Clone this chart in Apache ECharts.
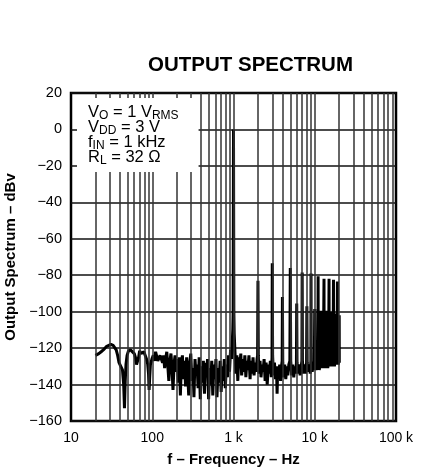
<!DOCTYPE html>
<html>
<head>
<meta charset="utf-8">
<script src="https://cdn.jsdelivr.net/npm/echarts@6/dist/echarts.min.js"></script>
<style>
  html, body { margin: 0; padding: 0; background: #fff; }
  #chart { width: 424px; height: 467px; }
</style>
</head>
<body>
<div id="chart"></div>
<script>
// axis ticks
const xTickValues = [10, 100, 1000, 10000, 100000];
const xTickLabels = ['10', '100', '1 k', '10 k', '100 k'];
const yTicks = [-160, -140, -120, -100, -80, -60, -40, -20, 0, 20];
// log grid lines between the decades
const gridFreqs = [
  20, 30, 40, 50, 60, 70, 80, 90, 100,
  200, 300, 400, 500, 600, 700, 800, 900, 1000,
  2000, 3000, 4000, 5000, 6000, 7000, 8000, 9000, 10000,
  20000, 30000, 40000, 50000, 60000, 70000, 80000, 90000
];

// noise floor below the fundamental  [Hz, dBV]
const floorBelow1k = [
  [20, -124], [21, -125], [22, -123], [23.5, -122], [25, -121], [26, -120],
  [27.5, -119], [29, -118.5], [31, -118], [33, -118.5], [34.5, -119], [36, -121],
  [37.5, -124], [39, -128], [41, -130], [43, -132], [44.5, -140], [45.5, -153],
  [46.5, -138], [47.5, -129], [49, -124], [51, -121.5], [54, -121], [57, -122],
  [60, -123], [62, -125], [64, -129], [66, -130], [68, -125], [70, -121.5],
  [73, -123], [76, -124], [79, -122], [82, -124], [85, -126], [88, -129],
  [90, -134], [91.5, -143], [93, -136], [95, -129], [99, -126], [103, -124],
  [107, -127], [110, -122], [113, -121.5], [117, -127], [121, -128], [125, -124],
  [130, -123], [134, -128], [138, -124], [142, -131], [146, -126], [151, -122],
  [155, -129], [160, -138], [165, -127], [170, -123], [175, -131], [180, -143],
  [186, -128], [191, -124], [197, -133], [203, -126], [209, -139], [215, -125],
  [222, -146], [228, -129], [235, -124], [242, -137], [250, -127], [257, -141],
  [265, -125], [273, -134], [281, -146], [290, -128], [298, -123], [307, -138],
  [317, -131], [326, -147], [336, -126], [346, -135], [356, -129], [367, -142],
  [378, -125], [390, -148], [401, -130], [413, -139], [426, -127], [439, -145],
  [452, -128], [465, -136], [479, -126], [494, -148], [509, -131], [524, -140],
  [540, -127], [556, -146], [573, -129], [590, -137], [608, -126], [626, -147],
  [645, -131], [664, -139], [684, -127], [705, -144], [726, -130], [748, -138],
  [770, -126], [793, -142], [817, -129], [842, -136], [867, -124], [893, -133],
  [920, -121], [948, -126], [965, -117], [980, -110], [990, -100]
];

// noise floor above the fundamental  [Hz, dBV]
const floorAbove1k = [
  [1010, -100], [1020, -112], [1040, -121], [1070, -134], [1100, -124], [1130, -138],
  [1160, -125], [1190, -131], [1230, -123], [1260, -135], [1300, -126], [1340, -133],
  [1380, -124], [1420, -136], [1460, -127], [1500, -132], [1550, -124], [1600, -137],
  [1640, -127], [1690, -134], [1740, -125], [1790, -135], [1850, -128], [1900, -133],
  [1950, -126], [1980, -124], [2020, -124], [2060, -134], [2120, -127], [2180, -136],
  [2250, -129], [2310, -133], [2380, -126], [2450, -138], [2520, -128], [2600, -140],
  [2680, -129], [2760, -134], [2840, -127], [2920, -136], [2980, -125], [3030, -124],
  [3100, -135], [3190, -128], [3290, -137], [3380, -130], [3440, -145], [3500, -131],
  [3600, -136], [3700, -129], [3800, -138], [3900, -130], [3970, -127], [4040, -128],
  [4150, -136], [4270, -129], [4400, -137], [4530, -130], [4660, -135], [4800, -129],
  [4940, -127], [5060, -127], [5200, -135], [5360, -129], [5520, -136], [5680, -130],
  [5850, -134], [5950, -128], [6050, -128], [6240, -134], [6420, -129], [6610, -135],
  [6810, -130], [6950, -127], [7050, -127], [7260, -134], [7480, -129], [7700, -134],
  [7930, -128], [8070, -128], [8300, -133], [8550, -129], [8800, -134], [8960, -127],
  [9040, -127], [9300, -133], [9580, -128], [9860, -132], [10100, -127], [10400, -132],
  [10700, -128], [10950, -126], [11050, -126], [11350, -132], [11700, -128], [11950, -126],
  [12050, -126], [12400, -131], [12750, -127], [12950, -126], [13050, -126], [13450, -131],
  [13800, -127], [13950, -126], [14050, -126], [14450, -131], [14800, -127], [14950, -126],
  [15050, -126], [15450, -130], [15800, -126], [15950, -126], [16050, -126], [16450, -130],
  [16800, -126], [16950, -125], [17050, -125], [17450, -130], [17800, -126], [17950, -125],
  [18050, -125], [18450, -129], [18800, -126], [18950, -125], [19050, -125], [19450, -129],
  [19800, -126], [19950, -125], [20050, -128]
];

// fundamental and harmonics
const harmonicFreq = [1000, 2000, 3000, 4000, 5000, 6000, 7000, 8000, 9000, 10000,
  11000, 12000, 13000, 14000, 15000, 16000, 17000, 18000, 19000, 20000];
const harmonicDbv = [0, -83, -73.5, -92, -76, -95.5, -78.5, -97, -79, -98.5,
  -80.5, -99.5, -82, -99.5, -82, -100, -82.5, -101, -83.5, -102];

const trace = floorBelow1k
  .concat(floorAbove1k)
  .concat(harmonicFreq.map((f, i) => [f, harmonicDbv[i]]))
  .sort((a, b) => a[0] - b[0]);

const FONT = 'Liberation Sans';

const chart = echarts.init(document.getElementById('chart'));

chart.setOption({
  animation: false,
  backgroundColor: '#fff',
  title: {
    text: 'OUTPUT SPECTRUM',
    left: 143,
    top: 50,
    textStyle: { fontFamily: FONT, fontSize: 20.5, fontWeight: 'bold', color: '#000' },
  },
  grid: {
    left: 71, right: 28, top: 93, bottom: 46,
    outerBoundsMode: 'none',
    show: true, borderColor: '#000', borderWidth: 2.5,
  },
  xAxis: {
    type: 'log',
    logBase: 10,
    min: 10,
    max: 100000,
    name: 'f \u2013 Frequency \u2013 Hz',
    nameLocation: 'middle',
    nameGap: 31.5,
    nameTextStyle: { fontFamily: FONT, fontSize: 15, fontWeight: 'bold', color: '#000' },
    axisLine: { show: false },
    axisTick: { show: false },
    splitLine: { show: false },
    axisLabel: {
      fontFamily: FONT, fontSize: 14, color: '#000', margin: 10,
      formatter: (v) => {
        const i = xTickValues.indexOf(Math.round(v));
        return i >= 0 ? xTickLabels[i] : '';
      },
    },
  },
  yAxis: {
    type: 'value',
    min: yTicks[0],
    max: yTicks[yTicks.length - 1],
    interval: 20,
    name: 'Output Spectrum \u2013 dBv',
    nameLocation: 'middle',
    nameGap: 50,
    nameTextStyle: { fontFamily: FONT, fontSize: 15, fontWeight: 'bold', color: '#000' },
    axisLine: { show: false },
    axisTick: { show: false },
    splitLine: { show: true, lineStyle: { color: '#111', width: 1.5 } },
    axisLabel: {
      fontFamily: FONT, fontSize: 14.5, color: '#000', margin: 9,
      formatter: (v) => (v < 0 ? '\u2212' + Math.abs(v) : String(v)),
    },
  },
  graphic: [{
    type: 'text',
    left: 77,
    top: 98,
    z: 100,
    style: {
      text: '{t|V}{s|O}{t| = 1 V}{s|RMS}\n{t|V}{s|DD}{t| = 3 V}\n{t|f}{s|IN}{t| = 1 kHz}\n{t|R}{s|L}{t| = 32 \u03a9}',
      backgroundColor: '#fff',
      padding: [6, 20, 8, 11],
      fill: '#000',
      rich: {
        t: { fontFamily: FONT, fontSize: 16.5, lineHeight: 15, verticalAlign: 'top', fill: '#000' },
        s: { fontFamily: FONT, fontSize: 12, lineHeight: 15, verticalAlign: 'top', padding: [5.5, 0, 0, 0], fill: '#000' },
      },
    },
  }],
  series: [
    {
      // log grid lines
      type: 'line',
      data: [],
      z: 1,
      silent: true,
      markLine: {
        silent: true,
        symbol: 'none',
        animation: false,
        label: { show: false },
        lineStyle: { color: '#333', width: 1.5, type: 'solid' },
        data: gridFreqs.map((f) => ({ xAxis: f })),
      },
    },
    {
      name: 'Output Spectrum',
      type: 'line',
      z: 3,
      data: trace,
      showSymbol: false,
      lineStyle: { color: '#000', width: 3 },
    },
  ],
});
</script>
</body>
</html>
